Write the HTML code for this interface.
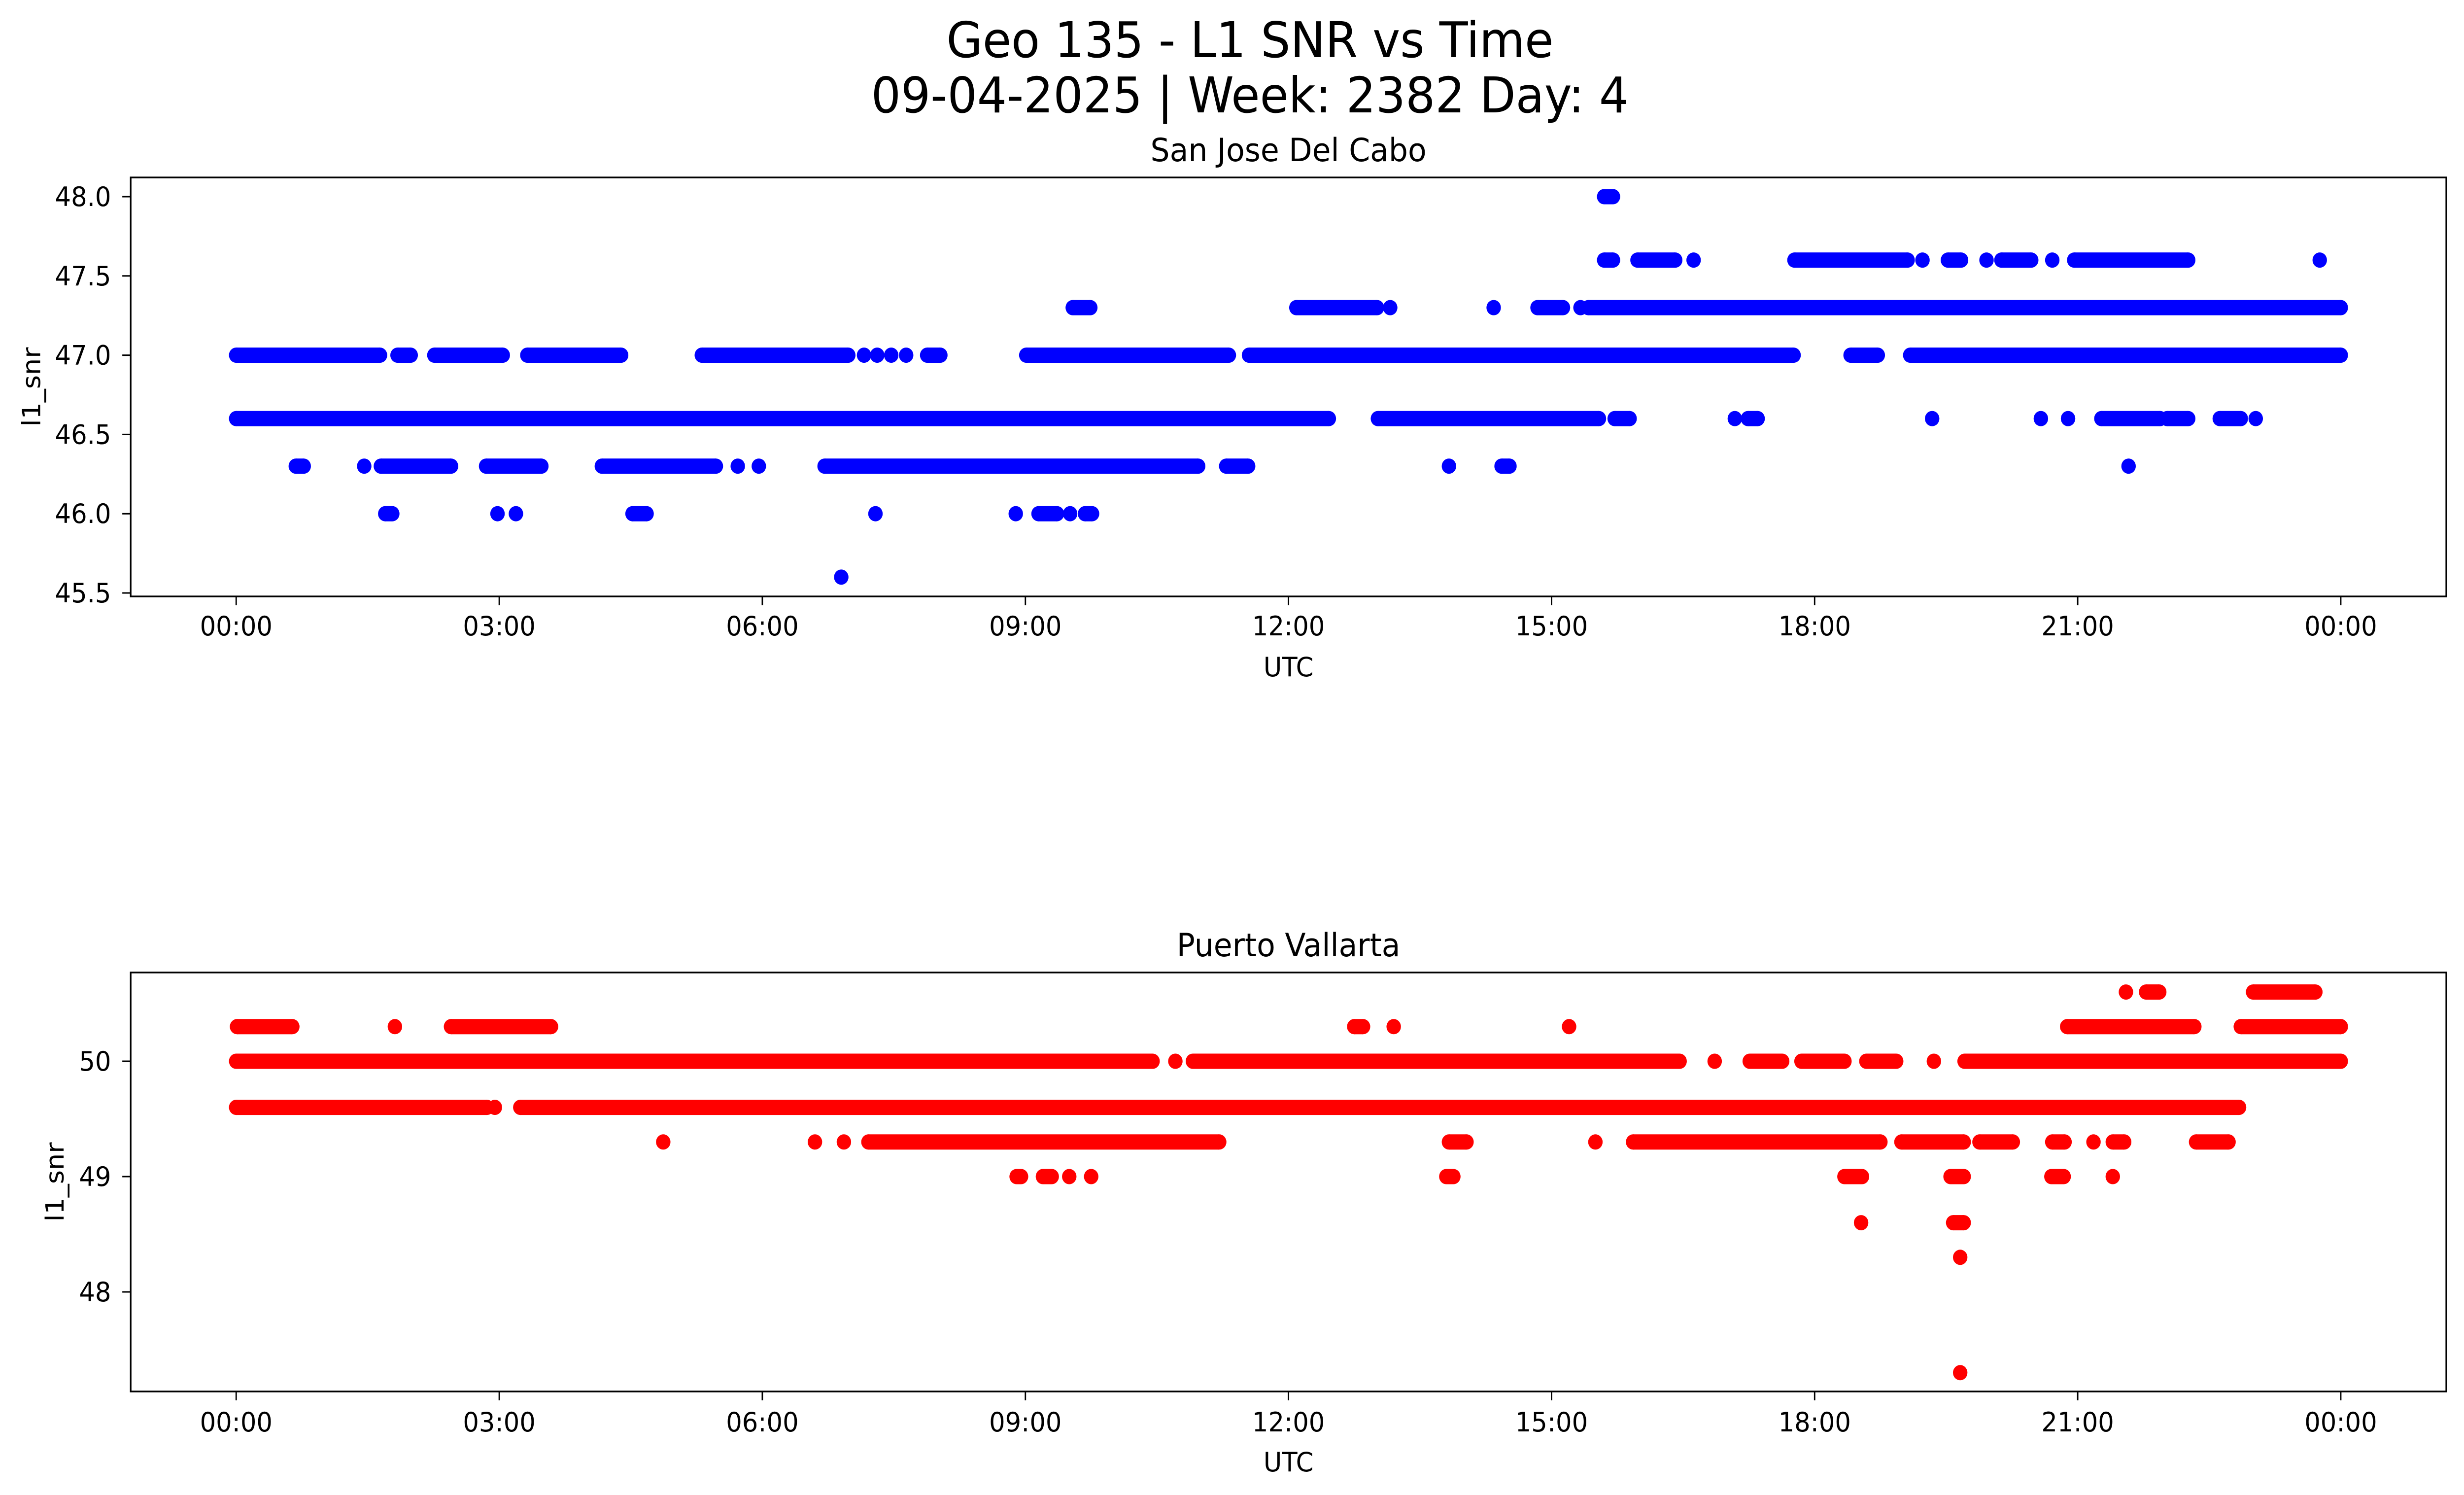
<!DOCTYPE html>
<html><head><meta charset="utf-8">
<style>
html,body{margin:0;padding:0;background:#fff;overflow:hidden;width:100%;height:100%;}
svg{display:block;width:100vw;height:100vh;font-family:"DejaVu Sans","Liberation Sans",sans-serif;}
</style></head>
<body>
<svg id="fig" viewBox="0 0 5279 3033" preserveAspectRatio="none" xmlns="http://www.w3.org/2000/svg">
<rect x="0" y="0" width="5279" height="3033" fill="#fff"/>
<text x="2678" y="116" font-size="100" text-anchor="middle">Geo 135 - L1 SNR vs Time</text>
<text x="2678" y="228" font-size="100" text-anchor="middle">09-04-2025 | Week: 2382 Day: 4</text>
<g id="top"></g>
<g id="bot"></g>
</svg>
<script>
const xTickHours = [0,3,6,9,12,15,18,21,24];
const xTickLabels = ["00:00","03:00","06:00","09:00","12:00","15:00","18:00","21:00","00:00"];
const topYTicks = [45.5,46.0,46.5,47.0,47.5,48.0];
const topYTickLabels = ["45.5","46.0","46.5","47.0","47.5","48.0"];
const botYTicks = [48,49,50];
const botYTickLabels = ["48","49","50"];

const topLevels = [
47.0,47.0,47.0,47.0,47.0,47.0,47.0,47.0,47.0,47.0,47.0,47.0,47.0,47.0,
46.6,46.6,46.6,46.6,46.6,46.6,46.6,46.6,46.6,46.6,46.6,46.6,
46.3,46.3,46.3,46.3,46.3,46.3,46.3,46.3,46.3,46.3,46.3,46.3,
46.0,46.0,46.0,46.0,46.0,46.0,46.0,46.0,46.0,
45.6,
47.3,47.3,47.3,47.3,47.3,47.3,47.3,
47.6,47.6,47.6,47.6,47.6,47.6,47.6,47.6,47.6,47.6,47.6,
48.0];
const topStarts = [
0,1.84,2.26,3.32,5.31,7.16,7.31,7.47,7.64,7.88,9.01,11.55,18.41,19.09,
0,13.02,15.72,17.09,17.24,19.34,20.58,20.89,21.27,22.02,22.62,23.03,
0.68,1.46,1.65,2.85,4.17,5.72,5.96,6.71,11.29,13.83,14.43,21.58,
1.70,2.98,3.19,4.52,7.29,8.89,9.15,9.51,9.68,
6.9,
9.54,12.09,13.16,14.34,14.84,15.33,15.42,
15.6,15.98,16.62,17.77,19.23,19.52,19.96,20.13,20.71,20.96,23.76,
15.6];
const topEnds = [
1.64,1.99,3.04,4.39,6.98,7.16,7.31,7.47,7.64,8.03,11.32,17.76,18.72,24.0,
12.46,15.54,15.89,17.09,17.35,19.34,20.58,20.89,21.94,22.26,22.86,23.03,
0.77,1.46,2.45,3.48,5.47,5.72,5.96,10.97,11.54,13.83,14.52,21.58,
1.78,2.98,3.19,4.68,7.29,8.89,9.36,9.51,9.76,
6.9,
9.74,13.01,13.16,14.34,15.13,15.33,24.0,
15.7,16.41,16.62,19.06,19.23,19.67,19.96,20.47,20.71,22.26,23.76,
15.7];

const botLevels = [
50.6,50.6,50.6,
50.3,50.3,50.3,50.3,50.3,50.3,50.3,50.3,
50.0,50.0,50.0,50.0,50.0,50.0,50.0,50.0,50.0,
49.6,49.6,49.6,
49.3,49.3,49.3,49.3,49.3,49.3,49.3,49.3,49.3,49.3,49.3,49.3,49.3,
49.0,49.0,49.0,49.0,49.0,49.0,49.0,49.0,49.0,
48.6,48.6,
48.3,
47.3];
const botStarts = [
21.55,21.78,23.0,
0.01,1.81,2.45,12.75,13.2,15.2,20.88,22.86,
0,10.71,10.91,16.86,17.26,17.85,18.59,19.36,19.71,
0,2.95,3.24,
4.87,6.6,6.93,7.21,13.83,15.5,15.93,18.99,19.88,20.71,21.18,21.4,22.35,
8.9,9.2,9.5,9.75,13.8,18.34,19.55,20.7,21.4,
18.53,19.58,
19.66,
19.66];
const botEnds = [
21.55,21.93,23.71,
0.64,1.81,3.59,12.85,13.2,15.2,22.33,24.0,
10.45,10.71,16.46,16.86,17.63,18.34,18.93,19.36,24.0,
2.86,2.95,22.84,
4.87,6.6,6.93,11.21,14.03,15.5,18.75,19.7,20.26,20.85,21.18,21.53,22.72,
8.95,9.3,9.5,9.75,13.88,18.54,19.7,20.84,21.4,
18.53,19.7,
19.66,
19.66];

const NS = "http://www.w3.org/2000/svg";
function mk(tag, attrs, parent){
  const e = document.createElementNS(NS, tag);
  for (const k in attrs) e.setAttribute(k, attrs[k]);
  parent.appendChild(e);
  return e;
}
const X0 = 280, X1 = 5241;
function xScale(h){ return 506 + h * 187.875; }

function drawPanel(g, cfg){
  const {top, bottom, yScale, yTicks, yLabels, levels, starts, ends, color, title, tickBase, labelBase, ylabX} = cfg;
  const pts = mk('g', {}, g);
  
  
  const r = 15.5;
  for (let i = 0; i < levels.length; i++){
    const y = yScale(levels[i]);
    const xa = xScale(starts[i]), xb = xScale(ends[i]);
    const seg = mk('g', {fill: color}, pts);
    
    
    mk('circle', {cx: xa, cy: y, r: r}, seg);
    if (xb > xa){
      mk('rect', {x: xa, y: y - r, width: xb - xa, height: 2 * r}, seg);
      mk('circle', {cx: xb, cy: y, r: r}, seg);
    }
  }
  const fr = mk('rect', {x: X0, y: top, width: X1 - X0, height: bottom - top, fill: 'none', stroke: '#000', 'stroke-width': 3.4}, g);
  
  
  for (let i = 0; i < xTickHours.length; i++){
    const x = xScale(xTickHours[i]);
    const t = mk('line', {x1: x, x2: x, y1: bottom, y2: bottom + 18, stroke: '#000', 'stroke-width': 3}, g);
    
    
    const lb = mk('text', {x: x, y: tickBase, 'font-size': 54, 'text-anchor': 'middle'}, g);
    
    
    lb.textContent = xTickLabels[i];
  }
  for (let i = 0; i < yTicks.length; i++){
    const y = yScale(yTicks[i]);
    const t = mk('line', {x1: X0 - 18, x2: X0, y1: y, y2: y, stroke: '#000', 'stroke-width': 3}, g);
    
    
    const lb = mk('text', {x: 238, y: y + 19, 'font-size': 54, 'text-anchor': 'end'}, g);
    
    
    lb.textContent = yLabels[i];
  }
  const xl = mk('text', {x: (X0 + X1) / 2, y: labelBase, 'font-size': 54, 'text-anchor': 'middle'}, g);
  
  
  xl.textContent = 'UTC';
  const cy = (top + bottom) / 2;
  const yl = mk('text', {x: ylabX, y: cy, 'font-size': 54, 'text-anchor': 'middle', transform: 'rotate(-90 ' + ylabX + ' ' + cy + ')'}, g);
  
  
  yl.textContent = 'l1_snr';
  const tt = mk('text', {x: (X0 + X1) / 2, y: top - 33, 'font-size': 65, 'text-anchor': 'middle'}, g);
  
  
  tt.textContent = title;
}

drawPanel(document.getElementById('top'), {
  top: 360, bottom: 1210,
  yScale: v => 399 - (v - 48) * 321.6,
  yTicks: topYTicks, yLabels: topYTickLabels,
  levels: topLevels, starts: topStarts, ends: topEnds,
  color: '#0000ff', title: 'San Jose Del Cabo',
  tickBase: 1289, labelBase: 1372, ylabX: 86
});
drawPanel(document.getElementById('bot'), {
  top: 1973, bottom: 2823,
  yScale: v => 2153 - (v - 50) * 234,
  yTicks: botYTicks, yLabels: botYTickLabels,
  levels: botLevels, starts: botStarts, ends: botEnds,
  color: '#ff0000', title: 'Puerto Vallarta',
  tickBase: 2904, labelBase: 2985, ylabX: 136
});
</script>
</body></html>
